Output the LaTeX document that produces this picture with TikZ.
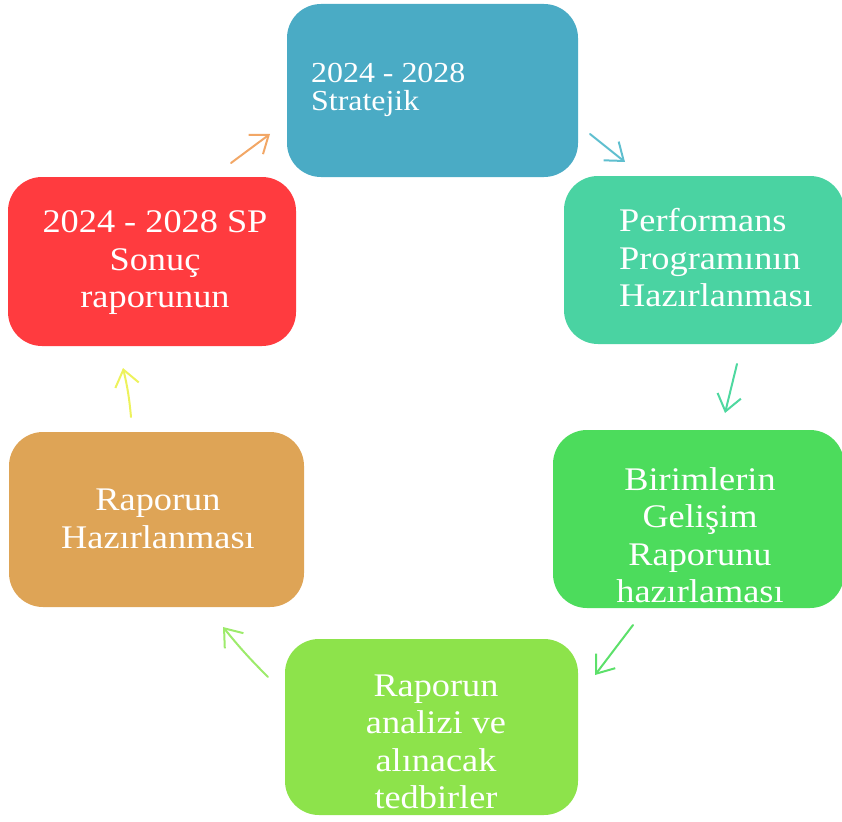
\documentclass[tikz,border=0pt]{standalone}
\usepackage{fontspec}
\setmainfont{Liberation Serif}[FakeStretch=1.1]
\usetikzlibrary{arrows.meta}
\definecolor{StratBlue}{HTML}{4AABC5}
\definecolor{PerfTeal}{HTML}{4AD3A2}
\definecolor{BirimGreen}{HTML}{4CDC5C}
\definecolor{AnalizLime}{HTML}{8DE34B}
\definecolor{HazirOrange}{HTML}{DEA456}
\definecolor{SonucRed}{HTML}{FF3B3F}

\begin{document}
\begin{tikzpicture}[
  x=1pt, y=-1pt,
  every node/.style={inner sep=0pt},
  stepbox/.style={rounded corners=34pt},
  steptext/.style={text=white, align=center, font=\fontsize{33}{37.5}\selectfont},
  cyc/.style={-{Straight Barb[length=16pt,width=24pt]}, line width=2pt, line cap=round, line join=round},
]
  \useasboundingbox (0,0) rectangle (842,821);

  % Stratejik plan
  \node[stepbox, fill=StratBlue, minimum width=291pt, minimum height=173pt] (strat) at (432.5,90.5) {};
  \node[steptext, align=left, anchor=west, font=\fontsize{29}{28}\selectfont] (strattxt) at (311,90) {2024 - 2028\\Stratejik};

  % Performans programi
  \node[stepbox, fill=PerfTeal, minimum width=280pt, minimum height=168pt] (perf) at (704,260) {};
  \node[steptext, align=left, anchor=west] (perftxt) at (619,258) {Performans\\Programının\\Hazırlanması};

  % Birimlerin raporu
  \node[stepbox, fill=BirimGreen, minimum width=291pt, minimum height=178pt] (birim) at (698.5,519) {};
  \node[steptext] (birimtxt) at (700,535) {Birimlerin\\Gelişim\\Raporunu\\hazırlaması};

  % Analiz
  \node[stepbox, fill=AnalizLime, minimum width=293pt, minimum height=176pt] (analiz) at (431.5,727) {};
  \node[steptext] (analiztxt) at (436,742) {Raporun\\analizi ve\\alınacak\\tedbirler};

  % Rapor hazirlama
  \node[stepbox, fill=HazirOrange, minimum width=295pt, minimum height=175pt] (hazir) at (156.5,519.5) {};
  \node[steptext] (hazirtxt) at (158,519) {Raporun\\Hazırlanması};

  % Sonuc raporu
  \node[stepbox, fill=SonucRed, minimum width=288pt, minimum height=169pt] (sonuc) at (152,261.5) {};
  \node[steptext] (sonuctxt) at (155,263) {2024 - 2028 SP\\Sonuç\\raporunun};

  % cycle arrows
  \coordinate (a1s) at (231,163); \coordinate (a1e) at (270,134);
  \coordinate (a2s) at (590,134); \coordinate (a2e) at (625,162);
  \coordinate (a3s) at (737,364); \coordinate (a3e) at (725,413);
  \coordinate (a4s) at (633,625); \coordinate (a4e) at (595,675);
  \coordinate (a5s) at (268,677); \coordinate (a5e) at (223,627);
  \coordinate (a6s) at (131,417); \coordinate (a6e) at (123,368);
  \draw[cyc, color={rgb,255:red,242;green,167;blue,102}] (a1s) -- (a1e);
  \draw[cyc, color={rgb,255:red,95;green,191;blue,207}] (a2s) -- (a2e);
  \draw[cyc, color={rgb,255:red,79;green,216;blue,160}] (a3s) -- (a3e);
  \draw[cyc, color={rgb,255:red,92;green,224;blue,106}] (a4s) -- (a4e);
  \draw[cyc, color={rgb,255:red,157;green,235;blue,107}] (a5s) to[bend left=3] (a5e);
  \draw[cyc, color={rgb,255:red,237;green,242;blue,92}] (a6s) to[bend right=4] (a6e);
\end{tikzpicture}
\end{document}
